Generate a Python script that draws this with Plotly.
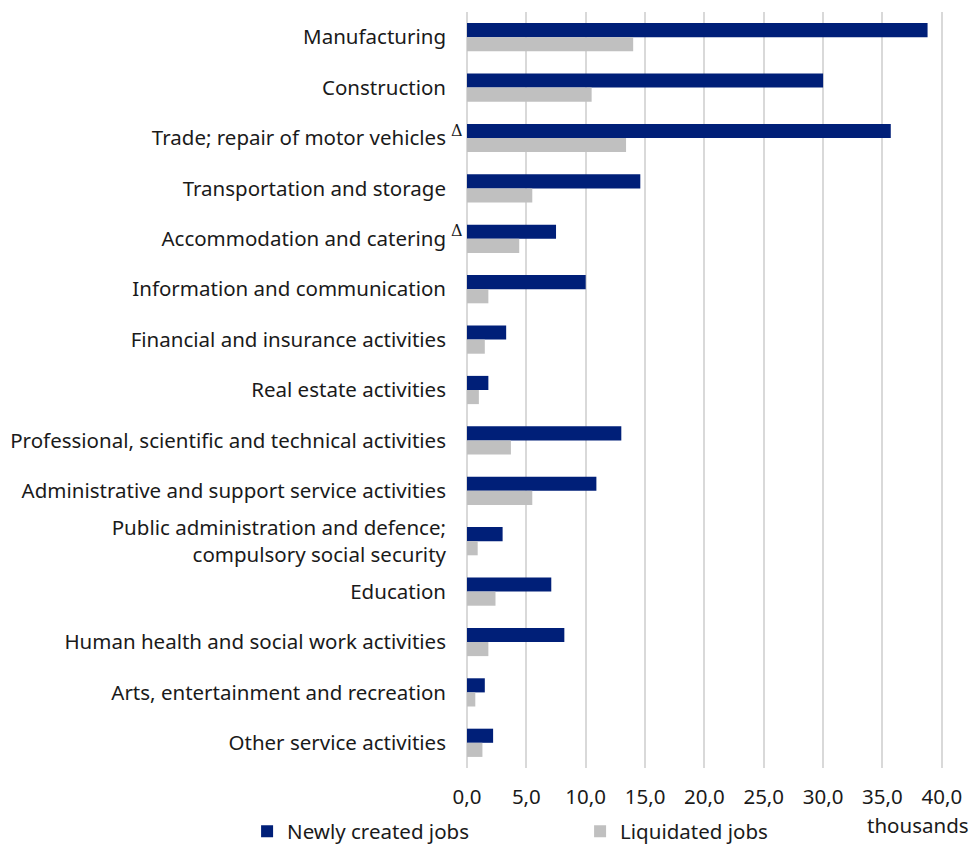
import plotly.graph_objects as go

categories = [
    "Manufacturing",
    "Construction",
    "Trade; repair of motor vehicles",
    "Transportation and storage",
    "Accommodation and catering",
    "Information and communication",
    "Financial and insurance activities",
    "Real estate activities",
    "Professional, scientific and technical activities",
    "Administrative and support service activities",
    "Public administration and defence;<br>compulsory social security",
    "Education",
    "Human health and social work activities",
    "Arts, entertainment and recreation",
    "Other service activities",
]
flagged = ["Trade; repair of motor vehicles", "Accommodation and catering"]

newly_created = [38.8, 30.0, 35.7, 14.6, 7.5, 10.0, 3.3, 1.8, 13.0, 10.9, 3.0, 7.1, 8.2, 1.5, 2.2]
liquidated = [14.0, 10.5, 13.4, 5.5, 4.4, 1.8, 1.5, 1.0, 3.7, 5.5, 0.9, 2.4, 1.8, 0.7, 1.3]

x_ticks = [0, 5, 10, 15, 20, 25, 30, 35, 40]

NAVY = "#001f78"
GRAY = "#c0c0c0"
FONT = "Noto Sans"
TXT = "#1a1a1a"
FS = 20.5

fig = go.Figure()
fig.add_trace(go.Bar(y=categories, x=newly_created, orientation="h", name="Newly created jobs",
                     marker=dict(color=NAVY, line=dict(width=0))))
fig.add_trace(go.Bar(y=categories, x=liquidated, orientation="h", name="Liquidated jobs",
                     marker=dict(color=GRAY, line=dict(width=0))))

for c in flagged:
    fig.add_annotation(text="Δ", xref="paper", x=0, xanchor="left", xshift=-18,
                       y=c, yref="y", yanchor="middle", yshift=8, showarrow=False,
                       font=dict(family="DejaVu Serif", size=16, color=TXT))

fig.add_annotation(text="thousands", xref="paper", x=0.948, xanchor="center",
                   yref="paper", y=-0.0755, yanchor="middle", showarrow=False,
                   font=dict(family=FONT, size=FS, color=TXT))

fig.update_layout(
    width=971, height=845,
    margin=dict(l=467, r=28, t=12, b=77, autoexpand=False),
    barmode="group", bargap=0.44, bargroupgap=0,
    plot_bgcolor="white", paper_bgcolor="white",
    separators=",.",
    font=dict(family=FONT, size=FS, color=TXT),
    showlegend=True,
    legend=dict(orientation="h", x=-0.462, xanchor="left", y=-0.084, yanchor="middle",
                entrywidth=288, font=dict(family=FONT, size=FS, color=TXT),
                bgcolor="rgba(0,0,0,0)"),
)
fig.update_xaxes(range=[0, 40.1], tickvals=x_ticks, tickformat=".1f", automargin=False,
                 showgrid=True, gridcolor="#d9d9d9", gridwidth=2,
                 zeroline=True, zerolinecolor="#d9d9d9", zerolinewidth=2,
                 showline=False, ticks="", ticklabelstandoff=14)
fig.update_yaxes(autorange="reversed", showgrid=False, showline=False, ticks="",
                 automargin=False, ticklabelstandoff=20)

fig.write_html("out.html", config={"displayModeBar": False},
               post_script="document.body.style.margin='0';")
